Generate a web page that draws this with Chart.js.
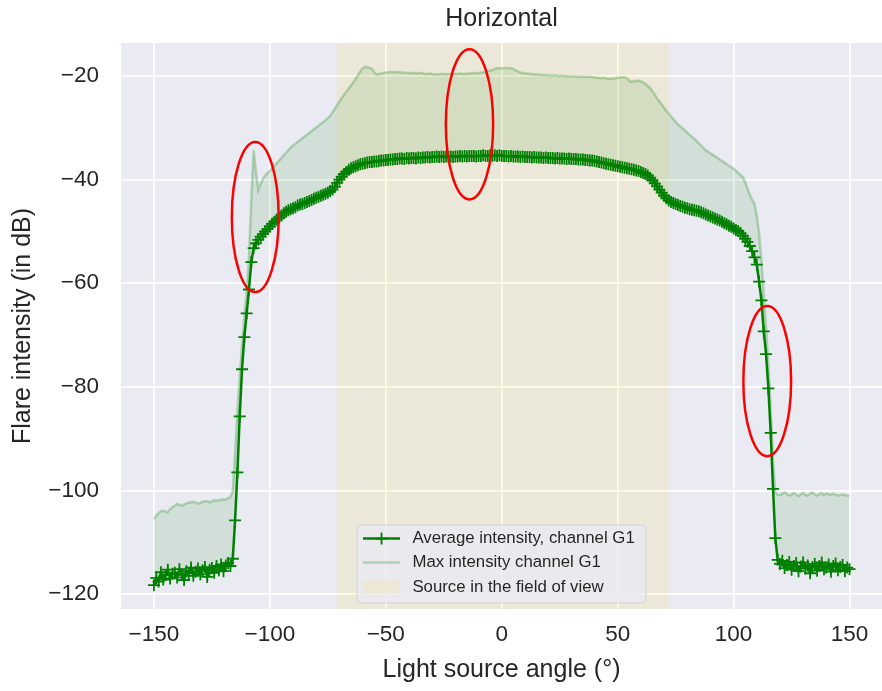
<!DOCTYPE html>
<html lang="en">
<head>
<meta charset="UTF-8">
<title>Horizontal</title>
<script src="https://cdn.jsdelivr.net/npm/chart.js@4"></script>
<style>
  body { margin: 0; background: #fff; overflow: hidden; }
</style>
</head>
<body>
<canvas id="flareChart" width="882" height="691"></canvas>
<script>
// light source angle (deg)
const angles = [
  -150,-149,-148,-147,-146,-145,-144,-143,-142,-141,-140,-139,-138,-137,-136,-135,-134,-133,-132,-131,
  -130,-129,-128,-127,-126,-125,-124,-123,-122,-121,-120,-119,-118,-117,-116,-115,-114,-113,-112,-111,
  -110,-109,-108,-107,-106,-105,-104,-103,-102,-101,-100,-99,-98,-97,-96,-95,-94,-93,-92,-91,
  -90,-89,-88,-87,-86,-85,-84,-83,-82,-81,-80,-79,-78,-77,-76,-75,-74,-73,-72,-71,
  -70,-69,-68,-67,-66,-65,-64,-63,-62,-61,-60,-59,-58,-57,-56,-55,-54,-53,-52,-51,
  -50,-49,-48,-47,-46,-45,-44,-43,-42,-41,-40,-39,-38,-37,-36,-35,-34,-33,-32,-31,
  -30,-29,-28,-27,-26,-25,-24,-23,-22,-21,-20,-19,-18,-17,-16,-15,-14,-13,-12,-11,
  -10,-9,-8,-7,-6,-5,-4,-3,-2,-1,0,1,2,3,4,5,6,7,8,9,
  10,11,12,13,14,15,16,17,18,19,20,21,22,23,24,25,26,27,28,29,
  30,31,32,33,34,35,36,37,38,39,40,41,42,43,44,45,46,47,48,49,
  50,51,52,53,54,55,56,57,58,59,60,61,62,63,64,65,66,67,68,69,
  70,71,72,73,74,75,76,77,78,79,80,81,82,83,84,85,86,87,88,89,
  90,91,92,93,94,95,96,97,98,99,100,101,102,103,104,105,106,107,108,109,
  110,111,112,113,114,115,116,117,118,119,120,121,122,123,124,125,126,127,128,129,
  130,131,132,133,134,135,136,137,138,139,140,141,142,143,144,145,146,147,148,149,
  150
];

// average intensity, channel G1 (dB)
const avgIntensity = [
  -118.3,-116.9,-117.6,-115.8,-117.2,-116.4,-115.3,-117.0,-116.1,-115.9,
  -116.8,-115.2,-116.3,-117.3,-115.6,-116.0,-114.9,-116.5,-115.7,-115.1,
  -116.2,-115.4,-114.8,-116.7,-115.3,-115.0,-115.9,-114.6,-115.4,-114.3,
  -115.6,-114.5,-114.0,-114.6,-113.2,-105.8,-96.5,-85.7,-76.6,-70.4,
  -65.8,-61.2,-55.9,-53.2,-52.3,-51.6,-51.0,-50.5,-50.0,-49.5,
  -49.0,-48.5,-48.1,-47.7,-47.3,-46.9,-46.5,-46.2,-45.9,-45.7,
  -45.5,-45.3,-45.0,-44.8,-44.7,-44.5,-44.3,-44.1,-43.9,-43.7,
  -43.5,-43.3,-43.1,-42.9,-42.7,-42.5,-42.2,-41.9,-41.4,-40.6,
  -40.0,-39.4,-38.9,-38.5,-38.1,-37.8,-37.6,-37.4,-37.2,-37.0,
  -36.9,-36.8,-36.7,-36.6,-36.6,-36.5,-36.5,-36.4,-36.3,-36.3,
  -36.2,-36.2,-36.1,-36.1,-36.0,-36.0,-35.9,-35.9,-36.0,-35.8,
  -35.9,-35.8,-35.8,-35.9,-35.7,-35.8,-35.7,-35.7,-35.6,-35.7,
  -35.6,-35.6,-35.5,-35.6,-35.5,-35.6,-35.5,-35.6,-35.5,-35.6,
  -35.5,-35.5,-35.4,-35.5,-35.4,-35.5,-35.4,-35.4,-35.4,-35.5,
  -35.4,-35.4,-35.3,-35.4,-35.4,-35.3,-35.4,-35.3,-35.4,-35.3,
  -35.4,-35.4,-35.4,-35.5,-35.4,-35.5,-35.5,-35.5,-35.6,-35.5,
  -35.6,-35.6,-35.6,-35.7,-35.6,-35.7,-35.7,-35.7,-35.8,-35.7,
  -35.8,-35.8,-35.8,-35.9,-35.8,-35.9,-35.9,-35.9,-36.0,-35.9,
  -36.0,-36.0,-36.0,-36.1,-36.1,-36.1,-36.2,-36.2,-36.3,-36.3,
  -36.4,-36.5,-36.6,-36.7,-36.8,-36.9,-37.0,-37.1,-37.2,-37.3,
  -37.4,-37.5,-37.6,-37.7,-37.8,-37.9,-38.0,-38.1,-38.2,-38.3,
  -38.5,-38.7,-38.9,-39.2,-39.6,-40.1,-40.7,-41.3,-41.9,-42.5,
  -43.1,-43.6,-44.0,-44.3,-44.5,-44.7,-44.9,-45.1,-45.2,-45.4,
  -45.5,-45.7,-45.8,-45.9,-46.0,-46.1,-46.3,-46.5,-46.7,-46.9,
  -47.1,-47.3,-47.5,-47.7,-47.9,-48.1,-48.4,-48.6,-48.9,-49.1,
  -49.4,-49.7,-49.9,-50.3,-50.8,-51.4,-52.0,-52.8,-53.8,-55.0,
  -56.4,-59.7,-63.3,-69.3,-73.7,-80.3,-88.9,-99.7,-109.2,-113.4,
  -114.2,-113.6,-115.0,-114.4,-113.8,-115.3,-114.6,-114.0,-115.6,-114.7,
  -113.9,-115.1,-114.5,-116.0,-114.8,-114.2,-115.5,-114.6,-113.9,-115.2,
  -114.9,-114.3,-115.7,-114.6,-114.1,-115.4,-114.8,-114.4,-115.6,-114.9,
  -115.2
];

// max intensity, channel G1 (dB)
const maxIntensity = [
  -105.5,-104.9,-104.4,-104.0,-103.9,-104.1,-104.2,-103.6,-103.2,-102.9,
  -102.6,-102.8,-103.0,-102.7,-102.5,-102.4,-102.3,-102.2,-102.3,-102.6,
  -102.4,-102.2,-102.1,-102.1,-102.3,-102.1,-101.9,-102.0,-101.9,-101.8,
  -101.7,-101.8,-101.5,-101.3,-100.2,-93.0,-85.0,-78.0,-72.0,-66.5,
  -61.5,-55.0,-44.0,-34.3,-38.5,-42.0,-40.8,-39.8,-39.2,-38.7,
  -38.3,-37.8,-37.3,-36.8,-36.3,-35.8,-35.3,-34.8,-34.3,-33.8,
  -33.4,-33.1,-32.7,-32.4,-32.0,-31.7,-31.3,-31.0,-30.6,-30.3,
  -29.9,-29.6,-29.2,-28.9,-28.5,-28.1,-27.7,-27.0,-26.3,-25.6,
  -24.9,-24.2,-23.6,-23.0,-22.4,-21.8,-21.2,-20.5,-19.8,-19.1,
  -18.5,-18.2,-18.3,-18.4,-18.6,-19.3,-19.7,-19.6,-19.5,-19.4,
  -19.3,-19.3,-19.2,-19.2,-19.2,-19.2,-19.3,-19.3,-19.3,-19.4,
  -19.4,-19.4,-19.4,-19.5,-19.4,-19.4,-19.5,-19.6,-19.6,-19.5,
  -19.6,-19.7,-19.7,-19.7,-19.6,-19.6,-19.7,-19.6,-19.6,-19.5,
  -19.6,-19.6,-19.5,-19.6,-19.6,-19.5,-19.5,-19.5,-19.4,-19.5,
  -19.4,-19.3,-19.3,-19.2,-19.1,-18.9,-18.8,-18.6,-18.5,-18.5,
  -18.5,-18.5,-18.4,-18.5,-18.5,-18.6,-18.9,-19.1,-19.3,-19.4,
  -19.5,-19.5,-19.6,-19.6,-19.7,-19.7,-19.7,-19.8,-19.8,-19.8,
  -19.9,-19.9,-19.9,-19.9,-19.9,-20.0,-19.9,-20.0,-20.0,-20.0,
  -20.1,-20.0,-20.0,-20.1,-20.1,-20.1,-20.1,-20.1,-20.1,-20.2,
  -20.2,-20.3,-20.3,-20.4,-20.3,-20.4,-20.5,-20.5,-20.5,-20.4,
  -20.3,-20.3,-20.2,-20.2,-20.4,-20.9,-21.1,-21.0,-20.9,-20.9,
  -21.0,-21.2,-21.5,-21.9,-22.3,-22.9,-23.6,-24.3,-24.9,-25.5,
  -26.1,-26.7,-27.2,-27.8,-28.3,-28.8,-29.3,-29.7,-30.1,-30.5,
  -30.9,-31.3,-31.7,-32.1,-32.5,-33.0,-33.4,-33.9,-34.3,-34.6,
  -34.9,-35.2,-35.5,-35.8,-36.1,-36.4,-36.7,-37.0,-37.3,-37.6,
  -37.9,-38.3,-38.7,-39.1,-39.5,-40.5,-41.7,-42.9,-43.9,-44.7,
  -47.0,-50.4,-55.6,-62.5,-68.5,-75.5,-84.5,-94.5,-100.4,-100.8,
  -100.9,-100.6,-100.4,-100.7,-101.0,-100.8,-100.5,-100.8,-101.1,-100.7,
  -100.5,-100.9,-101.0,-100.6,-100.4,-100.8,-101.0,-100.7,-100.5,-100.9,
  -100.6,-100.7,-100.9,-100.6,-100.8,-101.0,-100.9,-100.8,-100.9,-101.0,
  -101.0
];

// angles where the source is in the field of view
const fovRange = [-71.3, 72.3];

const xTicks = [-150, -100, -50, 0, 50, 100, 150];
const yTicks = [-120, -100, -80, -60, -40, -20];

const seriesLabels = ['Average intensity, channel G1', 'Max intensity channel G1', 'Source in the field of view'];

// red circled regions: angle, dB, half width (deg), half height (dB)
const circledAngle = [-106.3, -13.9, 114.5];
const circledDb = [-47.2, -29.3, -78.9];
const circledHalfW = [10.1, 10.2, 10.3];
const circledHalfH = [14.5, 14.5, 14.5];

const GREEN = 'rgb(0,128,0)';
const GREEN_PALE = 'rgba(0,128,0,0.25)';
const GREEN_FILL = 'rgba(0,128,0,0.1)';
const SPAN_FILL = 'rgba(255,215,0,0.1)';
const AX_BG = '#EAEAF2';
const TEXT = '#262626';
const FONT = "'Liberation Sans', Arial, sans-serif";

const fmt = v => (v < 0 ? '\u2212' + Math.abs(v) : '' + v);
const toPoints = ys => angles.map((a, i) => ({ x: a, y: ys[i] }));

const axesBg = {
  id: 'axesBg',
  beforeDraw(chart) {
    const { ctx, chartArea: a } = chart;
    ctx.save();
    ctx.fillStyle = '#ffffff';
    ctx.fillRect(0, 0, chart.width, chart.height);
    ctx.fillStyle = AX_BG;
    ctx.fillRect(a.left, a.top, a.right - a.left, a.bottom - a.top);
    ctx.restore();
  }
};

const circles = {
  id: 'circles',
  afterDatasetsDraw(chart) {
    const { ctx, scales: { x, y } } = chart;
    ctx.save();
    ctx.strokeStyle = '#ff0000';
    ctx.lineWidth = 2.5;
    circledAngle.forEach((a, i) => {
      const cx = x.getPixelForValue(a);
      const cy = y.getPixelForValue(circledDb[i]);
      const rx = Math.abs(x.getPixelForValue(a + circledHalfW[i]) - cx);
      const ry = Math.abs(y.getPixelForValue(circledDb[i] + circledHalfH[i]) - cy);
      ctx.beginPath();
      ctx.ellipse(cx, cy, rx, ry, 0, 0, Math.PI * 2);
      ctx.stroke();
    });
    ctx.restore();
  }
};

// matplotlib-like legend box, lower center
const boxLegend = {
  id: 'boxLegend',
  afterDraw(chart) {
    const { ctx, chartArea: a } = chart;
    const w = 289, h = 78;
    const x0 = (a.left + a.right) / 2 - w / 2;
    const y0 = a.bottom - 6 - h;
    ctx.save();
    ctx.beginPath();
    ctx.roundRect(x0, y0, w, h, 4);
    ctx.fillStyle = 'rgba(234,234,242,0.8)';
    ctx.fill();
    ctx.strokeStyle = 'rgba(204,204,204,0.8)';
    ctx.lineWidth = 1;
    ctx.stroke();

    const rows = [y0 + 13.6, y0 + 37.6, y0 + 62];
    const hx0 = x0 + 6, hx1 = x0 + 43, hxm = (hx0 + hx1) / 2;

    ctx.strokeStyle = GREEN;
    ctx.lineWidth = 2.5;
    ctx.beginPath();
    ctx.moveTo(hx0, rows[0]); ctx.lineTo(hx1, rows[0]);
    ctx.stroke();
    ctx.lineWidth = 1.8;
    ctx.beginPath();
    ctx.moveTo(hxm - 6, rows[0]); ctx.lineTo(hxm + 6, rows[0]);
    ctx.moveTo(hxm, rows[0] - 6); ctx.lineTo(hxm, rows[0] + 6);
    ctx.stroke();

    ctx.strokeStyle = GREEN_PALE;
    ctx.lineWidth = 2.5;
    ctx.beginPath();
    ctx.moveTo(hx0, rows[1]); ctx.lineTo(hx1, rows[1]);
    ctx.stroke();

    ctx.fillStyle = SPAN_FILL;
    ctx.fillRect(hx0, rows[2] - 6.5, hx1 - hx0, 12.5);

    ctx.fillStyle = TEXT;
    ctx.font = '16.8px ' + FONT;
    ctx.textBaseline = 'middle';
    ctx.textAlign = 'left';
    seriesLabels.forEach((t, i) => ctx.fillText(t, x0 + 55.4, rows[i]));
    ctx.restore();
  }
};

const ctx = document.getElementById('flareChart').getContext('2d');
new Chart(ctx, {
  type: 'line',
  data: {
    datasets: [
      {
        label: seriesLabels[0],
        data: toPoints(avgIntensity),
        borderColor: GREEN,
        borderWidth: 2.5,
        pointStyle: 'cross',
        pointRadius: 6,
        pointBorderWidth: 1.8,
        pointBorderColor: GREEN,
        pointBackgroundColor: GREEN,
        fill: false,
        tension: 0,
        order: 0
      },
      {
        label: seriesLabels[1],
        data: toPoints(maxIntensity),
        borderColor: GREEN_PALE,
        borderWidth: 2.5,
        pointRadius: 0,
        fill: { target: 0 },
        backgroundColor: GREEN_FILL,
        tension: 0,
        order: 1
      },
      {
        label: seriesLabels[2],
        data: fovRange.map(a => ({ x: a, y: 0 })),
        borderWidth: 0,
        borderColor: 'rgba(0,0,0,0)',
        pointRadius: 0,
        fill: 'start',
        backgroundColor: SPAN_FILL,
        order: 2
      }
    ]
  },
  options: {
    responsive: false,
    devicePixelRatio: 1,
    animation: false,
    events: [],
    layout: { padding: 0, autoPadding: false },
    plugins: {
      legend: { display: false },
      tooltip: { enabled: false },
      title: {
        display: true,
        text: 'Horizontal',
        color: TEXT,
        fullSize: false,
        font: { family: FONT, size: 25, weight: 'normal' },
        padding: { top: 4, bottom: 9 }
      }
    },
    scales: {
      x: {
        type: 'linear',
        min: -164.2,
        max: 164,
        afterBuildTicks: s => { s.ticks = xTicks.map(v => ({ value: v })); },
        afterFit: s => { s.height = 82; s.paddingLeft = 0; s.paddingRight = 0; },
        grid: { color: '#ffffff', lineWidth: 1.8, drawTicks: false },
        border: { display: false },
        ticks: {
          padding: 12, color: TEXT, maxRotation: 0, autoSkip: false,
          font: { family: FONT, size: 22.5 },
          callback: v => fmt(v)
        },
        title: {
          display: true,
          text: 'Light source angle (°)',
          color: TEXT,
          font: { family: FONT, size: 25 },
          padding: { top: 0, bottom: 6 }
        }
      },
      y: {
        type: 'linear',
        min: -122.9,
        max: -13.6,
        afterBuildTicks: s => { s.ticks = yTicks.map(v => ({ value: v })); },
        afterFit: s => { s.width = 121; s.paddingTop = 0; s.paddingBottom = 0; },
        grid: { color: '#ffffff', lineWidth: 1.8, drawTicks: false },
        border: { display: false },
        ticks: {
          padding: 22, color: TEXT,
          font: { family: FONT, size: 22.5 },
          callback: v => fmt(v)
        },
        title: {
          display: true,
          text: 'Flare intensity (in dB)',
          color: TEXT,
          font: { family: FONT, size: 25 },
          padding: { top: 8, bottom: 0 }
        }
      }
    }
  },
  plugins: [axesBg, circles, boxLegend]
});
</script>
</body>
</html>
